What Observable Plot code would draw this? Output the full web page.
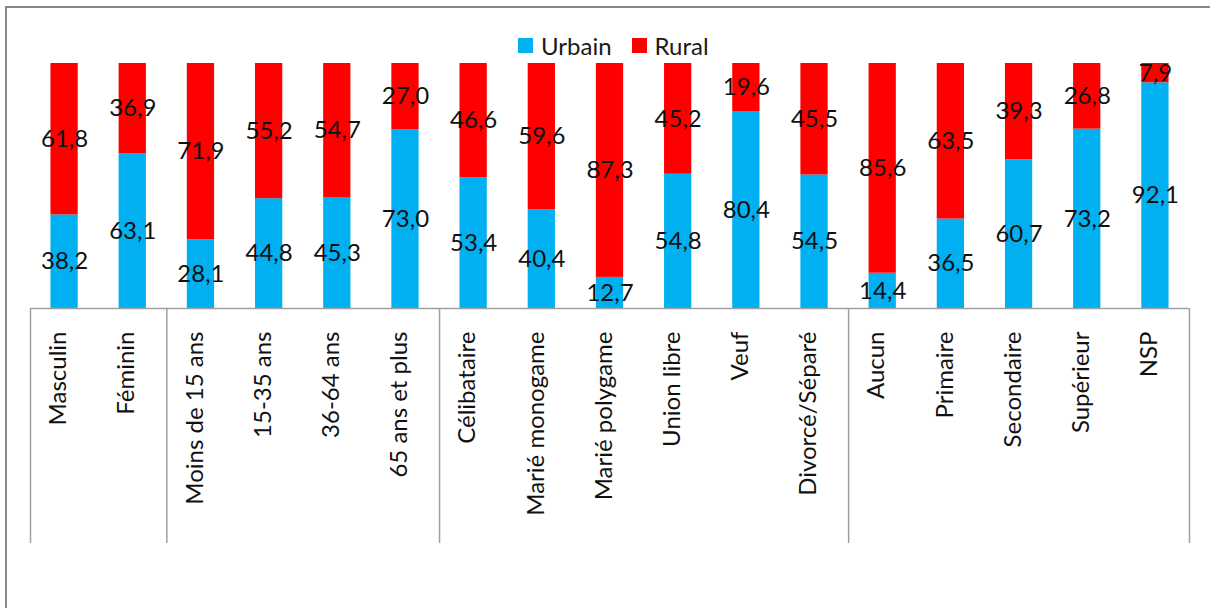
<!DOCTYPE html>
<html>
<head>
<meta charset="utf-8">
<script src="https://cdn.jsdelivr.net/npm/d3@7"></script>
<script src="https://cdn.jsdelivr.net/npm/@observablehq/plot@0.6"></script>
<style>
  html, body { margin: 0; padding: 0; background: #fff; }
  #wrap { position: relative; width: 1210px; height: 608px; overflow: hidden; font-family: Lato, "Open Sans", sans-serif; }
  #border { position: absolute; left: 5px; top: 6px; width: 1230px; height: 640px; border: 2px solid #878787; box-sizing: border-box; }
  #legend { position: absolute; left: 518px; top: 31px; display: flex; align-items: center; font-size: 24px; color: #1a1a1a; }
  #legend .sw { width: 15px; height: 15px; display: inline-block; margin-right: 8px; }
  #legend .item { display: flex; align-items: center; margin-right: 20px; }
  #chart { position: absolute; left: 0; top: 0; }
</style>
</head>
<body>
<div id="wrap">
  <div id="border"></div>
  <div id="chart"></div>
  <div id="legend"></div>
</div>
<script>
const categories = ["Masculin", "Féminin", "Moins de 15 ans", "15-35 ans", "36-64 ans", "65 ans et plus",
  "Célibataire", "Marié monogame", "Marié polygame", "Union libre", "Veuf", "Divorcé/Séparé",
  "Aucun", "Primaire", "Secondaire", "Supérieur", "NSP"];
const urbain = [38.2, 63.1, 28.1, 44.8, 45.3, 73.0, 53.4, 40.4, 12.7, 54.8, 80.4, 54.5, 14.4, 36.5, 60.7, 73.2, 92.1];
const rural  = [61.8, 36.9, 71.9, 55.2, 54.7, 27.0, 46.6, 59.6, 87.3, 45.2, 19.6, 45.5, 85.6, 63.5, 39.3, 26.8, 7.9];
const seriesNames = ["Urbain", "Rural"];
const seriesColors = ["#00B0F0", "#FF0000"];
// first category of each group (group separators drawn before them) and the last category
const groupStarts = ["Masculin", "Moins de 15 ans", "Célibataire", "Aucun"];
const lastCategory = "NSP";

const data = [];
categories.forEach((c, i) => {
  data.push({cat: c, series: "Urbain", value: urbain[i]});
  data.push({cat: c, series: "Rural", value: rural[i]});
});

const W = 1210, H = 608;
const mL = 30, mR = 21, mT = 63, mB = 300;
const step = (W - mL - mR) / categories.length;
const fmt = v => v.toFixed(1).replace(".", ",");

const chart = Plot.plot({
  width: W, height: H,
  marginLeft: mL, marginRight: mR, marginTop: mT, marginBottom: mB,
  style: {fontFamily: "Lato, 'Open Sans', sans-serif", background: "transparent", overflow: "visible"},
  x: {domain: categories, paddingInner: 0.6, paddingOuter: 0.3, round: false, axis: null},
  y: {domain: [0, 100], axis: null},
  color: {domain: seriesNames, range: seriesColors},
  marks: [
    Plot.barY(data, Plot.stackY({x: "cat", y: "value", fill: "series", order: seriesNames})),
    Plot.text(data, Plot.stackY({x: "cat", y: "value", z: "series", order: seriesNames, text: d => fmt(d.value), fontSize: 24, fill: "#111"})),
    Plot.ruleY([0], {stroke: "#a0a0a0", strokeWidth: 1.5}),
    Plot.ruleX(groupStarts, {x: d => d, dx: -step / 2, stroke: "#a0a0a0", strokeWidth: 1.5, insetTop: H - mT - mB, insetBottom: -235}),
    Plot.ruleX([lastCategory], {x: d => d, dx: step / 2, stroke: "#a0a0a0", strokeWidth: 1.5, insetTop: H - mT - mB, insetBottom: -235}),
    Plot.axisX({tickSize: 0, tickPadding: 23, tickRotate: -90, fontSize: 24, fill: "#111", dx: -6, label: null})
  ]
});
document.getElementById("chart").appendChild(chart);

const legend = document.getElementById("legend");
seriesNames.forEach((s, i) => {
  const item = document.createElement("span");
  item.className = "item";
  const sw = document.createElement("span");
  sw.className = "sw";
  sw.style.background = seriesColors[i];
  item.appendChild(sw);
  item.appendChild(document.createTextNode(s));
  legend.appendChild(item);
});
</script>
</body>
</html>
